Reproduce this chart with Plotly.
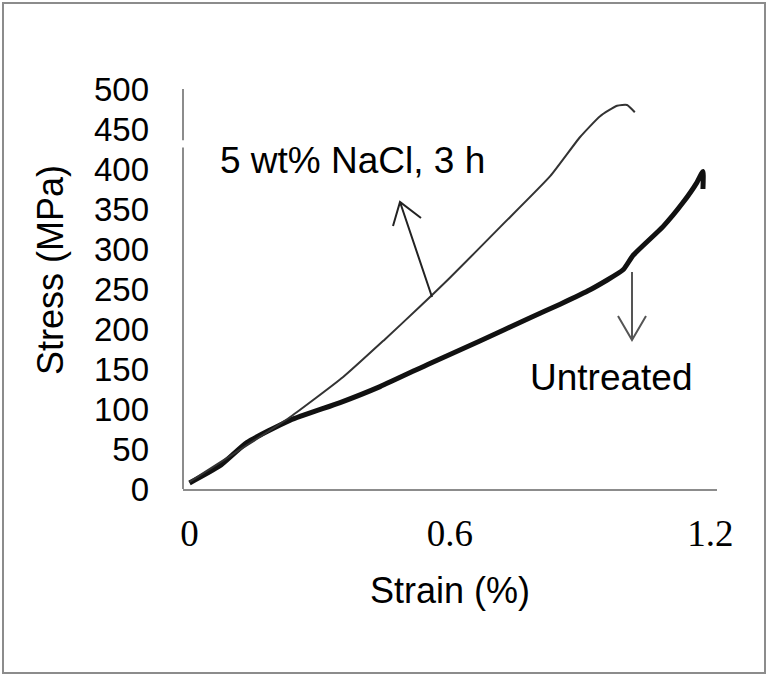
import plotly.graph_objects as go

# ---- data ----
nacl_strain = [0.0, 0.093, 0.162, 0.232, 0.354, 0.45, 0.531, 0.60, 0.715, 0.831, 0.90, 0.946, 0.985, 1.008, 1.026]
nacl_stress = [9, 41, 65, 90, 140, 187, 228, 264, 327, 391, 440, 466, 479, 480, 471]

untreated_strain = [0.0, 0.070, 0.132, 0.232, 0.347, 0.439, 0.554, 0.669, 0.785, 0.854, 0.923, 0.999, 1.022,
                    1.091, 1.137, 1.169, 1.183, 1.183]
untreated_stress = [7.5, 29, 58, 86, 108, 128, 157, 185, 214, 231, 249, 274, 292, 328, 358, 383, 397, 375]

x_ticks = [0, 0.6, 1.2]
x_tick_labels = ["0", "0.6", "1.2"]
y_ticks = [0, 50, 100, 150, 200, 250, 300, 350, 400, 450, 500]

W, H = 768, 676
L, R, T, B = 183, 51, 89, 187
XR = [-0.015, 1.2154]
YR = [0, 500]
PW = W - L - R
PH = H - T - B


def dx(px):
    return XR[0] + (px - L) / PW * (XR[1] - XR[0])


def dy(py):
    return YR[0] + (T + PH - py) / PH * (YR[1] - YR[0])


def px_(px):
    return (px - L) / PW


def py_(py):
    return (T + PH - py) / PH


fig = go.Figure()
fig.add_trace(go.Scatter(x=untreated_strain, y=untreated_stress, mode="lines",
                         line=dict(color="#111111", width=5, shape="spline", smoothing=0.5),
                         name="Untreated"))
fig.add_trace(go.Scatter(x=nacl_strain, y=nacl_stress, mode="lines",
                         line=dict(color="#333333", width=2, shape="spline", smoothing=0.5),
                         name="5 wt% NaCl, 3 h"))

shapes = []
# outer frame
shapes.append(dict(type="rect", xref="paper", yref="paper",
                   x0=px_(3), x1=px_(765), y0=py_(673), y1=py_(3),
                   line=dict(color="#8c8c8c", width=2), fillcolor="rgba(0,0,0,0)"))
# y-axis line with a small break
shapes.append(dict(type="line", xref="paper", yref="y", x0=0, x1=0, y0=0, y1=427,
                   line=dict(color="#8c8c8c", width=2)))
shapes.append(dict(type="line", xref="paper", yref="y", x0=0, x1=0, y0=436, y1=500,
                   line=dict(color="#8c8c8c", width=2)))


def arrow(tail, tip, arm1, arm2, color, width):
    path = "M {},{} L {},{} M {},{} L {},{} L {},{}".format(
        dx(tail[0]), dy(tail[1]), dx(tip[0]), dy(tip[1]),
        dx(arm1[0]), dy(arm1[1]), dx(tip[0]), dy(tip[1]), dx(arm2[0]), dy(arm2[1]))
    return dict(type="path", xref="x", yref="y", path=path, line=dict(color=color, width=width))


shapes.append(arrow((432, 297), (400, 202), (393, 226), (421, 218), "#222222", 2))
shapes.append(arrow((632, 272), (632, 340), (618, 316), (646, 316), "#555555", 2))

fig.update_layout(
    width=W, height=H,
    margin=dict(l=L, r=R, t=T, b=B, pad=0),
    paper_bgcolor="white", plot_bgcolor="white",
    showlegend=False,
    shapes=shapes,
    font=dict(family="Liberation Sans, Arial, sans-serif", color="black"),
    xaxis=dict(range=XR, tickvals=x_ticks, ticktext=x_tick_labels, showgrid=False, zeroline=False,
               showline=True, linecolor="#8c8c8c", linewidth=2, ticks="",
               tickfont=dict(family="Liberation Serif, Times New Roman, serif", size=37, color="black"),
               ticklabelstandoff=11,
               title=dict(text="Strain (%)", font=dict(size=36), standoff=24)),
    yaxis=dict(range=YR, tickvals=y_ticks, showgrid=False, zeroline=False, showline=False, ticks="",
               tickfont=dict(size=33, color="black"), ticklabelstandoff=33),
    annotations=[
        dict(text="Stress (MPa)", x=px_(50), y=py_(270), xref="paper", yref="paper", textangle=-90,
             xanchor="center", yanchor="middle", showarrow=False, font=dict(size=36, color="black")),
        dict(text="5 wt% NaCl, 3 h", x=dx(218), y=dy(160), xref="x", yref="y", xanchor="left",
             yanchor="middle", showarrow=False, font=dict(size=37, color="black")),
        dict(text="Untreated", x=dx(528), y=dy(377), xref="x", yref="y", xanchor="left",
             yanchor="middle", showarrow=False, font=dict(size=37, color="black")),
    ],
)

fig.write_html("out.html", config={"displayModeBar": False},
               post_script="document.body.style.margin='0';document.body.style.overflow='hidden';")
